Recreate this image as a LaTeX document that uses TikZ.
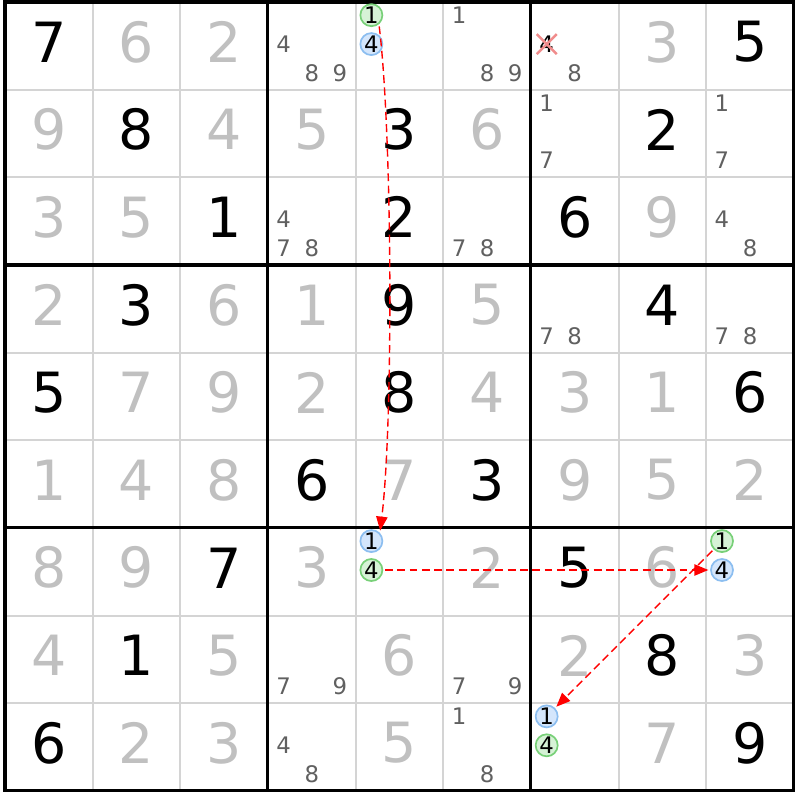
\documentclass[tikz,border=0pt]{standalone}
\usepackage{fontspec}
\setmainfont{DejaVu Sans}
\usetikzlibrary{arrows.meta}
\usetikzlibrary{shapes.misc}

\definecolor{solvedgray}{RGB}{192,192,192}
\definecolor{candgray}{RGB}{96,96,96}
\definecolor{linegray}{RGB}{212,212,212}
\definecolor{ongreen}{RGB}{120,208,120}
\definecolor{ongreenfill}{RGB}{214,242,214}
\definecolor{onblue}{RGB}{140,190,240}
\definecolor{onbluefill}{RGB}{212,230,252}
\definecolor{crosspink}{RGB}{240,140,140}

\begin{document}
\begin{tikzpicture}[
		given/.style={font=\fontsize{18}{18}\selectfont, inner sep=0pt, yshift=0.045cm},
		solved/.style={given, text=solvedgray},
		cand/.style={font=\fontsize{7.4}{7.4}\selectfont, inner sep=0pt, text=candgray},
		greencand/.style={cand, text=black, circle, draw=ongreen, fill=ongreenfill, line width=0.55pt, minimum size=0.25cm, outer sep=0.03cm},
		bluecand/.style={greencand, draw=onblue, fill=onbluefill},
		wrongcand/.style={cand, text=black, cross out, draw=crosspink, line width=0.8pt, minimum size=0.2cm},
		thin line/.style={linegray, line width=0.65pt},
		box line/.style={line width=1pt},
		link/.style={red, line width=0.45pt, dash pattern=on 0.9mm off 0.5mm, -{Triangle[length=1.6mm, width=1.3mm]}},
	]
		\useasboundingbox (-0.057,-0.104) rectangle (9.070,9.023);

		% grid
		\foreach \i in {1,2,4,5,7,8} {
			\draw[thin line] (\i,0) -- (\i,9);
			\draw[thin line] (0,\i) -- (9,\i);
		}
		\foreach \i in {3,6} {
			\draw[box line] (\i,0) -- (\i,9);
			\draw[box line] (0,\i) -- (9,\i);
		}
		\draw[box line] (0,0) rectangle (9,9);

		% givens
		\foreach \r/\c/\v in {1/1/7,1/9/5,2/2/8,2/5/3,2/8/2,3/3/1,3/5/2,3/7/6,4/2/3,4/5/9,4/8/4,
				5/1/5,5/5/8,5/9/6,6/4/6,6/6/3,7/3/7,7/7/5,8/2/1,8/8/8,9/1/6,9/9/9}
			\node[given] (n\r\c) at (\c-0.5,9.5-\r) {\v};

		% solved
		\foreach \r/\c/\v in {1/2/6,1/3/2,1/8/3,2/1/9,2/3/4,2/4/5,2/6/6,3/1/3,3/2/5,3/8/9,
				4/1/2,4/3/6,4/4/1,4/6/5,5/2/7,5/3/9,5/4/2,5/6/4,5/7/3,5/8/1,
				6/1/1,6/2/4,6/3/8,6/5/7,6/7/9,6/8/5,6/9/2,7/1/8,7/2/9,7/4/3,7/6/2,7/8/6,
				8/1/4,8/3/5,8/5/6,8/7/2,8/9/3,9/2/2,9/3/3,9/5/5,9/8/7}
			\node[solved] (n\r\c) at (\c-0.5,9.5-\r) {\v};

		% candidates
		\foreach \r/\c/\v in {1/4/4,1/4/8,1/4/9,1/6/1,1/6/8,1/6/9,1/7/8,2/7/1,2/7/7,2/9/1,2/9/7,
				3/4/4,3/4/7,3/4/8,3/6/7,3/6/8,3/9/4,3/9/8,4/7/7,4/7/8,4/9/7,4/9/8,
				8/4/7,8/4/9,8/6/7,8/6/9,9/4/4,9/4/8,9/6/1,9/6/8}
			\node[cand] (m\r\c-\v) at ({\c-1+0.18+0.32*mod(\v-1,3)},{10-\r-0.15-0.33*int((\v-1)/3)}) {\v};

		\node[greencand] (m15-1) at (4.18,8.85) {1};
		\node[bluecand] (m15-4) at (4.18,8.52) {4};
		\node[wrongcand] (m17-4) at (6.18,8.52) {4};
		\node[bluecand] (m75-1) at (4.18,2.85) {1};
		\node[greencand] (m75-4) at (4.18,2.52) {4};
		\node[greencand] (m79-1) at (8.18,2.85) {1};
		\node[bluecand] (m79-4) at (8.18,2.52) {4};
		\node[bluecand] (m97-1) at (6.18,0.85) {1};
		\node[greencand] (m97-4) at (6.18,0.52) {4};

		% chain
		\draw[link] (m15-1.-55) to[out=-83, in=83, looseness=0.55] (m75-1.50);
		\draw[link] (m75-4) -- (m79-4);
		\draw[link] (m79-1) -- (m97-1);
	\end{tikzpicture}
\end{document}
